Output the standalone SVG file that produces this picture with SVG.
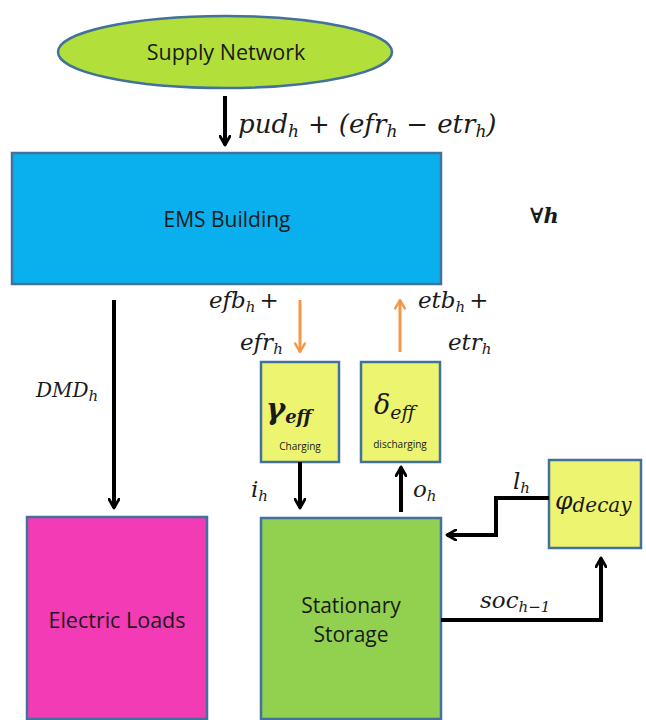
<svg xmlns="http://www.w3.org/2000/svg" width="646" height="720" viewBox="0 0 646 720">
<style>
.box{stroke:#41719c;stroke-width:2.5}
.lbl{font-family:"Open Sans","Liberation Sans",Arial,sans-serif;fill:#1a1a1a}
.m{font-family:"DejaVu Serif","Liberation Serif",serif;font-style:italic;fill:#1a1a1a;font-size:23px}
.sub{font-size:15px}
.k{fill:none;stroke:#000;stroke-width:4}
.o{fill:none;stroke:#f79646;stroke-width:3}
</style>
<defs>
<marker id="ak" viewBox="0 0 10 10" refX="8" refY="5" markerWidth="3.2" markerHeight="3.2" orient="auto" markerUnits="strokeWidth">
<polyline points="1,1 8,5 1,9" fill="none" stroke="#000" stroke-width="2.2" stroke-linecap="round" stroke-linejoin="round"/>
</marker>
<marker id="ao" viewBox="0 0 10 10" refX="8" refY="5" markerWidth="4" markerHeight="4" orient="auto" markerUnits="strokeWidth">
<polyline points="1,1 8,5 1,9" fill="none" stroke="#f79646" stroke-width="2" stroke-linecap="round" stroke-linejoin="round"/>
</marker>
</defs>
<rect width="646" height="720" fill="#fff"/>
<g id="supply"><ellipse class="box" cx="225" cy="52" rx="167" ry="36" fill="#b3df3b"/><text class="lbl" x="226" y="60" font-size="21.5" text-anchor="middle">Supply Network</text></g>
<g id="ems"><rect class="box" x="12" y="153" width="429" height="131" fill="#0ab0ee"/><text class="lbl" x="227" y="227" font-size="21" text-anchor="middle">EMS Building</text></g>
<g id="loads"><rect class="box" x="27" y="517" width="180" height="202" fill="#f33bb5"/><text class="lbl" x="117" y="628" font-size="21.5" text-anchor="middle">Electric Loads</text></g>
<g id="storage"><rect class="box" x="261" y="518" width="180" height="201" fill="#92d050"/><text class="lbl" x="351" y="613" font-size="21" text-anchor="middle">Stationary</text><text class="lbl" x="351" y="642" font-size="21" text-anchor="middle">Storage</text></g>
<g id="charging"><rect class="box" x="261" y="362" width="78" height="100" fill="#edf46f"/><text class="m" x="266" y="419" style="font-size:29px;font-weight:bold">γ<tspan style="font-size:18px" dy="4">eff</tspan></text><text class="lbl" x="300" y="450" font-size="10" text-anchor="middle">Charging</text></g>
<g id="discharging"><rect class="box" x="361" y="362" width="79" height="100" fill="#edf46f"/><text class="m" x="374" y="414" style="font-size:27px">δ<tspan style="font-size:19px" dy="5">eff</tspan></text><text class="lbl" x="400" y="448" font-size="10" text-anchor="middle">discharging</text></g>
<g id="decay"><rect class="box" x="549" y="460" width="92" height="88" fill="#edf46f"/><text class="m" x="555" y="509" style="font-size:25px">φ<tspan style="font-size:20px" dy="3">decay</tspan></text></g>
<g id="connectors">
<line class="k" x1="225" y1="96" x2="225" y2="145" marker-end="url(#ak)"/>
<line class="k" x1="114" y1="300" x2="114" y2="508" marker-end="url(#ak)"/>
<line class="o" x1="300" y1="300" x2="300" y2="352" marker-end="url(#ao)"/>
<line class="o" x1="400" y1="352" x2="400" y2="300" marker-end="url(#ao)"/>
<line class="k" x1="300" y1="462" x2="300" y2="508" marker-end="url(#ak)"/>
<line class="k" x1="401" y1="512" x2="401" y2="467" marker-end="url(#ak)"/>
<polyline class="k" points="549,498 496,498 496,535 447,535" marker-end="url(#ak)"/>
<polyline class="k" points="441,620 601,620 601,558" marker-end="url(#ak)"/>
</g>
<g id="labels">
<text class="m" x="238" y="133" style="font-size:26px">pud<tspan style="font-size:17px" dy="4">h</tspan><tspan dy="-4" dx="9">+</tspan><tspan dx="9">(efr</tspan><tspan style="font-size:17px" dy="4">h</tspan><tspan dy="-4" dx="9">−</tspan><tspan dx="9">etr</tspan><tspan style="font-size:17px" dy="4">h</tspan><tspan dy="-4">)</tspan></text>
<text class="m" x="530" y="223" style="font-style:normal;font-weight:bold;font-size:21px">∀<tspan style="font-style:italic">h</tspan></text>
<text class="m" x="36" y="397" style="font-size:20px">DMD<tspan class="sub" dy="4">h</tspan></text>
<text class="m" x="209" y="308">efb<tspan class="sub" dy="4">h</tspan><tspan dy="-4" dx="4">+</tspan></text>
<text class="m" x="240" y="350">efr<tspan class="sub" dy="4">h</tspan></text>
<text class="m" x="418" y="308">etb<tspan class="sub" dy="4">h</tspan><tspan dy="-4" dx="4">+</tspan></text>
<text class="m" x="448" y="350">etr<tspan class="sub" dy="4">h</tspan></text>
<text class="m" x="251" y="497">i<tspan class="sub" dy="4">h</tspan></text>
<text class="m" x="413" y="497">o<tspan class="sub" dy="4">h</tspan></text>
<text class="m" x="513" y="489">l<tspan class="sub" dy="4">h</tspan></text>
<text class="m" x="480" y="608">soc<tspan class="sub" dy="4">h−1</tspan></text>
</g>
</svg>
